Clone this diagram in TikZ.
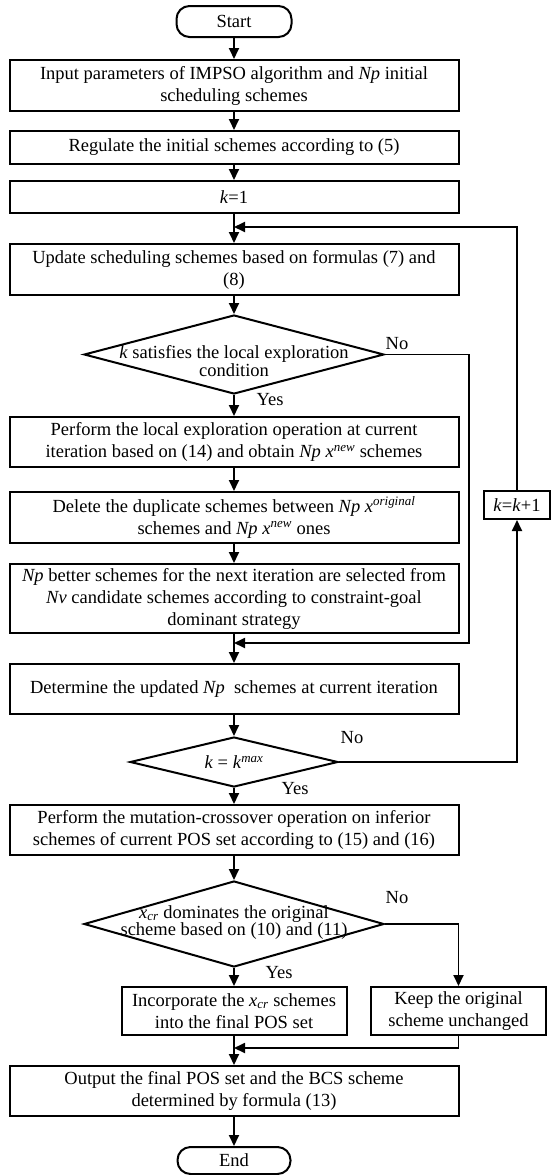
\documentclass[tikz,border=0pt]{standalone}
\usepackage{fontspec}
\setmainfont{Liberation Serif}
\usetikzlibrary{shapes.geometric,arrows.meta}
\begin{document}
\begin{tikzpicture}[x=1pt,y=-1pt,
  font=\fontsize{18.5}{22}\selectfont,
  box/.style={draw,line width=2pt,inner sep=0pt,align=center,minimum width=449pt},
  term/.style={draw,line width=2pt,rounded corners=13pt,inner sep=0pt},
  dia/.style={draw,line width=2pt,shape=diamond,inner sep=0pt},
  dtext/.style={align=center,inner sep=0pt,font=\fontsize{18.5}{15.5}\selectfont},
  arr/.style={line width=1.8pt,-{Triangle[length=11pt,width=10pt]}},
  lab/.style={inner sep=0pt}]
\useasboundingbox (0,0) rectangle (551,1175);
% terminals
\node[term,minimum width=115pt,minimum height=31pt] (start) at (234,21.5) {Start};
\node[term,minimum width=113pt,minimum height=27pt] (end) at (234,1160.5) {End};
% process boxes
\node[box,minimum height=51pt] (b1) at (234,85.5) {Input parameters of IMPSO algorithm and \textit{Np} initial\\scheduling schemes};
\node[box,minimum height=33pt] (b2) at (234,147.5) {Regulate the initial schemes according to (5)};
\node[box,minimum height=32pt] (b3) at (234,197) {\textit{k}=1};
\node[box,minimum height=51pt] (b4) at (234,269.5) {Update scheduling schemes based on formulas (7) and\\(8)};
\node[dia,minimum width=300pt,minimum height=79pt] (d1) at (234,354.5) {};
\node[dtext] (d1t) at (234,361) {\textit{k} satisfies the local exploration\\condition};
\node[box,minimum height=50pt] (b5) at (234,442) {Perform the local exploration operation at current\\iteration based on (14) and obtain \textit{Np x}\textsuperscript{\textit{new}} schemes};
\node[box,minimum height=51pt] (b6) at (234,517.5) {Delete the duplicate schemes between \textit{Np x}\textsuperscript{\textit{original}}\\schemes and \textit{Np x}\textsuperscript{\textit{new}} ones};
\node[box,minimum height=69pt] (b7) at (234,598.5) {\textit{Np} better schemes for the next iteration are selected from\\\textit{Nv} candidate schemes according to constraint-goal\\dominant strategy};
\node[box,minimum height=50pt] (b8) at (234,689) {Determine the updated \textit{Np}\ \ schemes at current iteration};
\node[dia,minimum width=208pt,minimum height=50pt] (d2) at (234,762) {};
\node[dtext] (d2t) at (234,762) {\textit{k} = \textit{k}\textsuperscript{\textit{max}}};
\node[box,minimum height=50pt] (b9) at (234,830) {Perform the mutation-crossover operation on inferior\\schemes of current POS set according to (15) and (16)};
\node[dia,minimum width=300pt,minimum height=86pt] (d3) at (234,924) {};
\node[dtext] (d3t) at (234,922.5) {\textit{x}\textsubscript{\textit{cr}} dominates the original\\scheme based on (10) and (11)};
\node[box,minimum width=225pt,minimum height=48pt] (b10) at (234,1011) {Incorporate the \textit{x}\textsubscript{\textit{cr}} schemes\\into the final POS set};
\node[box,minimum width=175pt,minimum height=48pt] (b11) at (458.5,1011) {Keep the original\\scheme unchanged};
\node[box,minimum height=50pt] (b12) at (234,1091) {Output the final POS set and the BCS scheme\\determined by formula (13)};
\node[box,minimum width=66pt,minimum height=28pt] (kb) at (517,505) {\textit{k}=\textit{k}+1};
% helper coordinates
\coordinate (m0) at (234,227);
\coordinate (m1) at (234,643);
\coordinate (c1) at (469,643);
\coordinate (m3) at (234,1048);
% connectors
\draw[arr] (start) -- (b1);
\draw[arr] (b1) -- (b2);
\draw[arr] (b2) -- (b3);
\draw[arr] (b3) -- (b4);
\draw[arr] (b4) -- (d1);
\draw[arr] (d1) -- (b5);
\draw[arr] (b5) -- (b6);
\draw[arr] (b6) -- (b7);
\draw[arr] (b7) -- (b8);
\draw[arr] (b8) -- (d2);
\draw[arr] (d2) -- (b9);
\draw[arr] (b9) -- (d3);
\draw[arr] (d3) -- (b10);
\draw[arr] (b10) -- (b12);
\draw[arr] (b12) -- (end);
\draw[arr] (d1.east) -| (c1) -- (m1);
\draw[arr] (d2.east) -| (kb.south);
\draw[arr] (kb.north) |- (m0);
\draw[arr] (d3.east) -| (b11.north);
\draw[arr] (b11.south) |- (m3);
% labels
\node[lab] (no1) at (397,344) {No};
\node[lab] (yes1) at (270,400) {Yes};
\node[lab] (no2) at (352,738) {No};
\node[lab] (yes2) at (295,789) {Yes};
\node[lab] (no3) at (397,898) {No};
\node[lab] (yes3) at (279,973) {Yes};
\end{tikzpicture}
\end{document}
